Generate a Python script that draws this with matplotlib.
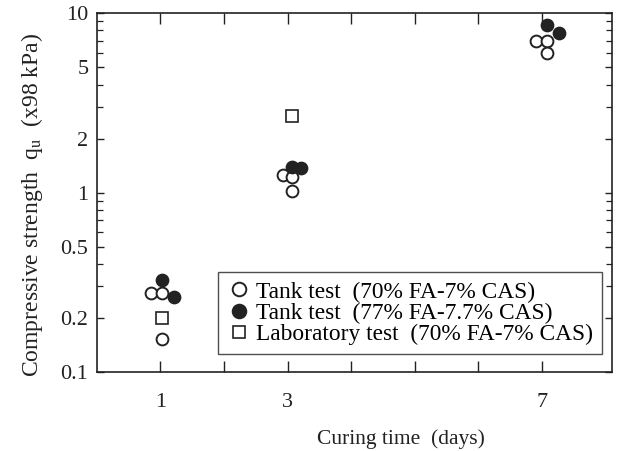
import matplotlib
matplotlib.use("Agg")
import matplotlib.pyplot as plt
from matplotlib.ticker import FixedLocator, FixedFormatter, NullFormatter

plt.rcParams['font.family'] = ['Liberation Serif', 'DejaVu Serif']
plt.rcParams['mathtext.fontset'] = 'stix'

# Tank test (70% FA-7% CAS) - open circles
open_x = [0.85, 1.03, 1.03, 2.93, 3.07, 3.07, 6.9, 7.08, 7.08]
open_y = [0.275, 0.275, 0.153, 1.25, 1.22, 1.02, 6.98, 7.0, 5.98]
# Tank test (77% FA-7.7% CAS) - filled circles
fill_x = [1.03, 1.21, 3.07, 3.21, 7.08, 7.27]
fill_y = [0.326, 0.262, 1.39, 1.37, 8.6, 7.74]
# Laboratory test (70% FA-7% CAS) - squares
sq_x = [1.03, 3.07]
sq_y = [0.2, 2.67]

x_ticks = [1, 2, 3, 4, 5, 6, 7]
x_tick_labels = ['1', '', '3', '', '', '', '7']
y_major = [0.1, 0.2, 0.5, 1, 2, 5, 10]
y_major_labels = ['0.1', '0.2', '0.5', '1', '2', '5', '10']
y_minor = [0.3, 0.4, 0.6, 0.7, 0.8, 0.9, 3, 4, 6, 7, 8, 9]

labels = ['Tank test  (70% FA-7% CAS)',
          'Tank test  (77% FA-7.7% CAS)',
          'Laboratory test  (70% FA-7% CAS)']

fig = plt.figure(figsize=(6.2, 4.51), dpi=100)
ax = fig.add_axes([0.156, 0.175, 0.831, 0.796])

ms = 8.5
ax.plot(open_x, open_y, 'o', ms=ms, mfc='white', mec='#222222', mew=1.4, ls='none', label=labels[0])
ax.plot(fill_x, fill_y, 'o', ms=ms, mfc='#222222', mec='#222222', mew=1.4, ls='none', label=labels[1])
ax.plot(sq_x, sq_y, 's', ms=ms - 0.5, mfc='white', mec='#222222', mew=1.2, ls='none', label=labels[2])

ax.set_yscale('log')
ax.set_ylim(0.1, 10)
ax.set_xlim(0, 8.1)

ax.xaxis.set_major_locator(FixedLocator(x_ticks))
ax.xaxis.set_major_formatter(FixedFormatter(x_tick_labels))
ax.yaxis.set_major_locator(FixedLocator(y_major))
ax.yaxis.set_major_formatter(FixedFormatter(y_major_labels))
ax.yaxis.set_minor_locator(FixedLocator(y_minor))
ax.yaxis.set_minor_formatter(NullFormatter())

ax.tick_params(axis='x', which='major', direction='in', top=True, bottom=True,
               length=8, width=1, labelsize=16, pad=15, colors='#222222')
ax.tick_params(axis='y', which='major', direction='in', left=True, right=True,
               length=5, width=1, labelsize=16, pad=6, colors='#222222')
ax.tick_params(axis='y', which='minor', direction='in', left=True, right=True,
               length=4, width=0.9, colors='#222222')

for s in ax.spines.values():
    s.set_linewidth(1.2)
    s.set_color('#222222')

ax.set_xlabel('Curing time  (days)', fontsize=15.5, color='#222222')
ax.xaxis.set_label_coords(0.59, -0.158)
ax.set_ylabel(r'Compressive strength  q$_{\mathrm{u}}$  (x98 kPa)', fontsize=17,
              color='#222222')
ax.yaxis.set_label_coords(-0.1, 0.465)

leg = ax.legend(loc='lower right', bbox_to_anchor=(0.981, 0.05), fontsize=16.8,
                frameon=True, fancybox=False, handletextpad=0.25, handlelength=1.0,
                borderpad=0.38, labelspacing=0.0, borderaxespad=0, markerscale=1.15)
leg.get_frame().set_edgecolor('#222222')
leg.get_frame().set_linewidth(1.0)

fig.savefig('out.png', dpi=100)
